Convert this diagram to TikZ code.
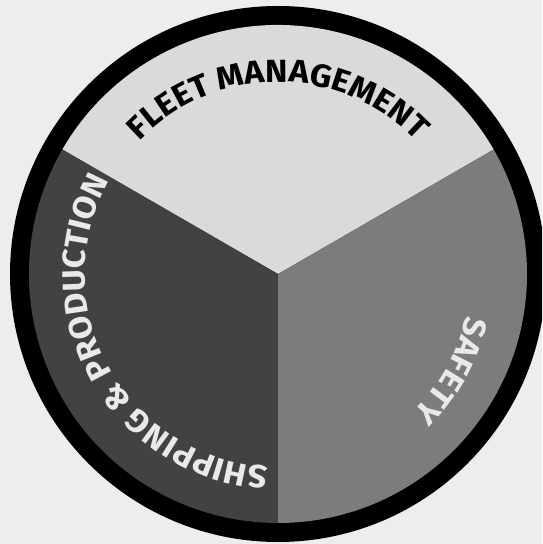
\documentclass[tikz,border=0pt]{standalone}
\usepackage{fontspec}
\setmainfont{Fira Sans}
\newfontfamily\ringfont[FakeStretch=1.06]{Fira Sans}
\usetikzlibrary{decorations.text}
\definecolor{bgc}{HTML}{EDEDED}
\definecolor{topc}{HTML}{D9DBD9}
\definecolor{rightc}{HTML}{7B7C7B}
\definecolor{leftc}{HTML}{414341}
\definecolor{lighttxt}{HTML}{E8E9E8}
\begin{document}
\begin{tikzpicture}[x=1pt,y=1pt]
\useasboundingbox (0,0) rectangle (542,544);
\fill[bgc] (0,0) rectangle (542,544);
\begin{scope}
\clip (0,0) rectangle (542,544);
\coordinate (c) at (278,270);
\fill[black] (c) circle[radius=268];
\fill[topc] (c) -- ([shift={(30:249)}]c) arc[start angle=30,end angle=150,radius=249] -- cycle;
\fill[leftc] (c) -- ([shift={(150:249)}]c) arc[start angle=150,end angle=270,radius=249] -- cycle;
\fill[rightc] (c) -- ([shift={(270:249)}]c) arc[start angle=270,end angle=390,radius=249] -- cycle;
\end{scope}
\path[decorate, decoration={text along path, text align=center, text color=black,
  text={|\ringfont\bfseries\fontsize{32}{32}\selectfont|FLEET MANAGEMENT}}]
  ([shift={(180:192)}]c) arc[start angle=180,end angle=0,radius=192];
\path[decorate, decoration={text along path, text align=center, text color=lighttxt,
  text={|\ringfont\bfseries\fontsize{32}{32}\selectfont|SAFETY}}]
  ([shift={(31:193)}]c) arc[start angle=31,end angle=-89,radius=193];
\path[decorate, decoration={text along path, text align=center, text color=lighttxt,
  text={|\ringfont\bfseries\fontsize{32}{32}\selectfont|SHIPPING {\&} PRODUCTION}}]
  ([shift={(269:193)}]c) arc[start angle=269,end angle=149,radius=193];
\end{tikzpicture}
\end{document}
